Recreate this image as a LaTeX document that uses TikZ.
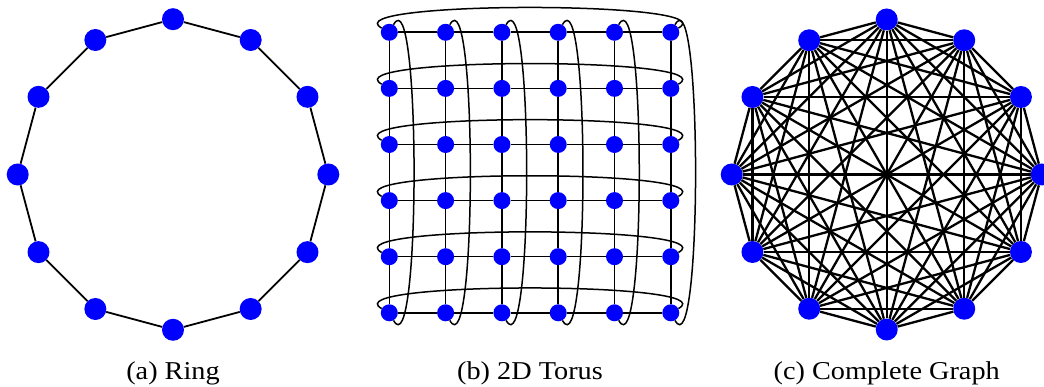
\documentclass[tikz,border=0pt]{standalone}
\usepackage{graphicx}
\usepackage{fontspec}
\setmainfont{Liberation Serif}
\begin{document}
\begin{tikzpicture}[x=1pt,y=1pt,
  ringnode/.style={circle,fill=blue,inner sep=0pt,minimum size=22pt},
  torusnode/.style={circle,fill=blue,inner sep=0pt,minimum size=17pt},
  ringedge/.style={line width=1.8pt},
  toredge/.style={line width=1.6pt},
  wrapedge/.style={line width=1.5pt,looseness=0.49},
  fulledge/.style={line width=2.3pt},
  caption/.style={anchor=base,font=\fontsize{25.7}{30}\selectfont,inner sep=0pt}]
\useasboundingbox (0,0) rectangle (1044,387);
% (a) ring
\foreach \k in {0,...,11}
  \node[ringnode] (r\k) at ({173+155.3*cos(\k*30)},{212.5+155.3*sin(\k*30)}) {};
\foreach \k in {0,...,11}{
  \pgfmathtruncatemacro\nx{mod(\k+1,12)}
  \draw[ringedge] (r\k) -- (r\nx);
}
% (b) 2D torus
\foreach \i in {1,...,6}
  \foreach \j in {1,...,6}
    \node[torusnode] (t-\i-\j) at ({389.3+56.3*(\i-1)},{354.7-56.1*(\j-1)}) {};
\foreach \i in {1,...,5}{
  \pgfmathtruncatemacro\nx{\i+1}
  \foreach \j in {1,...,6}{
    \draw[toredge] (t-\i-\j) -- (t-\nx-\j);
    \draw[toredge] (t-\j-\i) -- (t-\j-\nx);
  }
}
\foreach \j in {1,...,6}
  \draw[wrapedge] (t-1-\j) to[out=151,in=29] (t-6-\j);
\foreach \i in {1,...,6}
  \draw[wrapedge] (t-\i-1) to[out=61,in=-61] (t-\i-6);
% (c) complete graph
\foreach \k in {0,...,11}
  \node[ringnode] (c\k) at ({886.7+155*cos(\k*30)},{212.5+155*sin(\k*30)}) {};
\foreach \a in {0,...,10}{
  \pgfmathtruncatemacro\s{\a+1}
  \foreach \b in {\s,...,11}
    \draw[fulledge] (c\a) -- (c\b);
}
% captions
\node[caption] (capa) at (173,7) {\scalebox{1.1}[1]{(a) Ring}};
\node[caption] (capb) at (530,7) {\scalebox{1.1}[1]{(b) 2D Torus}};
\node[caption] (capc) at (886.7,7) {\scalebox{1.1}[1]{(c) Complete Graph}};
\end{tikzpicture}
\end{document}
